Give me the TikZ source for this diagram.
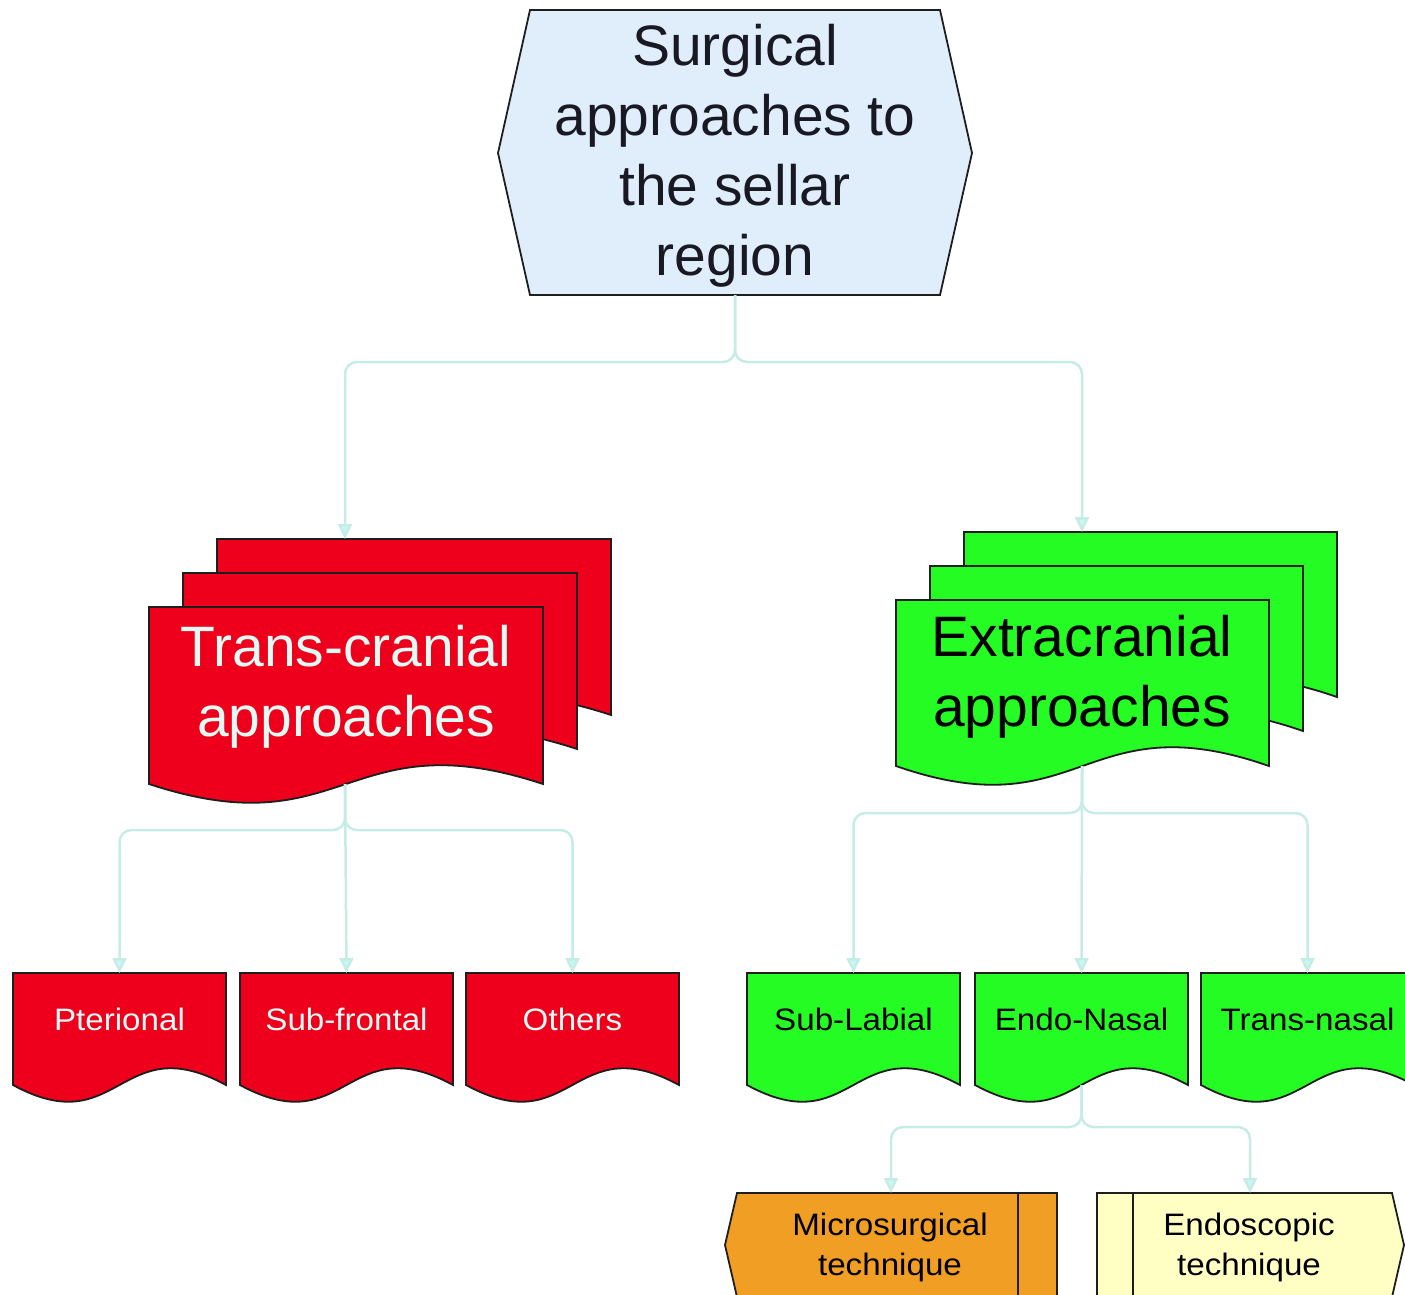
\documentclass[tikz,border=0pt]{standalone}
\usepackage{fontspec}
\setmainfont{Liberation Sans}
\newfontfamily\smallfont[FakeStretch=1.07]{Liberation Sans}
\usetikzlibrary{arrows.meta}
\definecolor{redf}{RGB}{238,0,28}
\definecolor{greenf}{RGB}{36,252,36}
\definecolor{bluef}{RGB}{224,238,252}
\definecolor{orangef}{RGB}{240,158,36}
\definecolor{yellowf}{RGB}{255,255,196}
\definecolor{connc}{RGB}{198,236,230}
\definecolor{arrc}{RGB}{200,248,244}
\definecolor{lighttext}{RGB}{224,250,244}
\definecolor{darktext}{RGB}{25,25,35}
\definecolor{borderc}{RGB}{30,30,30}
\tikzset{
  docline/.style={draw=borderc, line width=1.8pt, line join=miter},
  conn/.style={draw=connc, line width=2.5pt, rounded corners=12pt},
  arr/.style={conn, -{Triangle[width=14pt,length=15pt,fill=arrc]}},
  bigtext/.style={align=center, inner sep=0pt, font=\fontsize{57}{70}\selectfont},
  smalltext/.style={align=center, inner sep=0pt, anchor=base, font=\smallfont\fontsize{31}{40}\selectfont},
}
% #1 left x, #2 top y, #3 width, #4 height to corner, #5 fill, #6 wave control
\newcommand\docshape[6]{%
  \pgfmathsetmacro\dxr{#1+#3}\pgfmathsetmacro\dyb{#2+#4}\pgfmathsetmacro\dxm{#1+0.5*#3}%
  \pgfmathsetmacro\dyu{#2+#4-#6}\pgfmathsetmacro\dyd{#2+#4+#6}%
  \filldraw[docline, fill=#5] (#1,#2) -- (\dxr,#2) -- (\dxr,\dyb)
    .. controls (\dxm,\dyu) and (\dxm,\dyd) .. (#1,\dyb) -- cycle;}
\begin{document}
\begin{tikzpicture}[x=1pt,y=-1pt]
\path[use as bounding box] (0,0) rectangle (1405,1294);
\clip (0,0) rectangle (1405,1294);

% top hexagon
\filldraw[docline, fill=bluef] (530,10) -- (940,10) -- (972,153) -- (940,295)
  -- (530,295) -- (498,153) -- cycle;
\node[bigtext, text=darktext] (top) at (735,156) {Surgical\\approaches to\\the sellar\\region};
\coordinate (top-s) at (735,295);

% trans-cranial stack
\docshape{217}{539}{394}{176}{redf}{65}
\docshape{183}{573}{394}{176}{redf}{65}
\docshape{149}{607}{394}{177}{redf}{65}
\node[bigtext, text=lighttext] (tc) at (346,687) {Trans-cranial\\approaches};
\coordinate (tc-n) at (345,539);
\coordinate (tc-s) at (345,784);

% extracranial stack
\docshape{964}{532}{373}{165}{greenf}{65}
\docshape{930}{566}{373}{165}{greenf}{65}
\docshape{896}{600}{373}{166}{greenf}{65}
\node[bigtext, text=black] (ec) at (1082,677) {Extracranial\\approaches};
\coordinate (ec-n) at (1082,532);
\coordinate (ec-s) at (1082,766);

% red leaves
\docshape{13}{973}{213}{112}{redf}{58}
\docshape{240}{973}{213}{112}{redf}{58}
\docshape{466}{973}{213}{112}{redf}{58}
\node[smalltext, text=lighttext] (pter) at (119.5,1030) {Pterional};
\node[smalltext, text=lighttext] (subf) at (346.5,1030) {Sub-frontal};
\node[smalltext, text=lighttext] (oth) at (572.5,1030) {Others};
\coordinate (pter-n) at (119.5,973);
\coordinate (subf-n) at (346.5,973);
\coordinate (oth-n) at (572.5,973);

% green leaves
\docshape{747}{973}{213}{112}{greenf}{58}
\docshape{975}{973}{213}{112}{greenf}{58}
\docshape{1201}{973}{213}{112}{greenf}{58}
\node[smalltext, text=black] (subl) at (853.5,1030) {Sub-Labial};
\node[smalltext, text=black] (endo) at (1081.5,1030) {Endo-Nasal};
\node[smalltext, text=black] (trn) at (1307.5,1030) {Trans-nasal};
\coordinate (subl-n) at (853.5,973);
\coordinate (endo-n) at (1081.5,973);
\coordinate (trn-n) at (1307.5,973);
\coordinate (endo-s) at (1081.5,1085);

% technique boxes
\filldraw[docline, fill=orangef] (737,1193) -- (1057,1193) -- (1057,1297)
  -- (737,1297) -- (725,1245) -- cycle;
\draw[docline] (1018,1193) -- (1018,1297);
\node[smalltext, text=black] (micro) at (890,1275) {Microsurgical\\technique};
\filldraw[docline, fill=yellowf] (1097,1193) -- (1392,1193) -- (1404,1245)
  -- (1392,1297) -- (1097,1297) -- cycle;
\draw[docline] (1133,1193) -- (1133,1297);
\node[smalltext, text=black] (endos) at (1249,1275) {Endoscopic\\technique};
\coordinate (micro-n) at (891,1193);
\coordinate (endos-n) at (1250,1193);

% connectors
\draw[arr] (top-s) -- (735,362) -- (345,362) -- (tc-n);
\draw[arr] (top-s) -- (735,362) -- (1082,362) -- (ec-n);

\draw[arr] (tc-s) -- (345,830) -- (119.5,830) -- (pter-n);
\draw[arr] (tc-s) -- (345,830) -- (572.5,830) -- (oth-n);
\draw[arr] (tc-s) -- (subf-n);

\draw[arr] (ec-s) -- (1082,813) -- (853.5,813) -- (subl-n);
\draw[arr] (ec-s) -- (1082,813) -- (1307.5,813) -- (trn-n);
\draw[arr] (ec-s) -- (endo-n);

\draw[arr] (endo-s) -- (1081.5,1127) -- (891,1127) -- (micro-n);
\draw[arr] (endo-s) -- (1081.5,1127) -- (1250,1127) -- (endos-n);
\end{tikzpicture}
\end{document}
